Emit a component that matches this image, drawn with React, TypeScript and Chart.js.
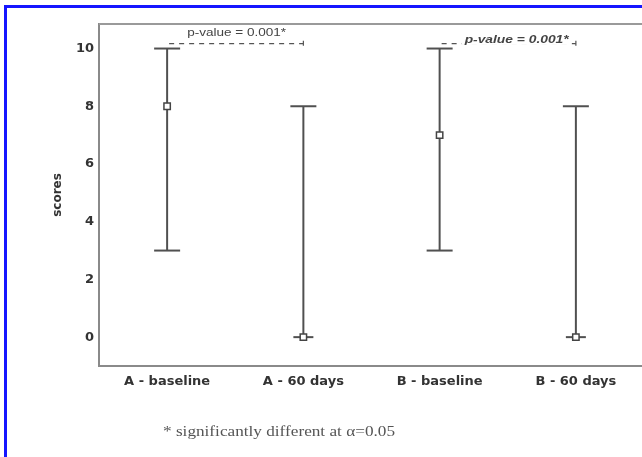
import React, { useEffect, useRef } from "react";
import { Chart, registerables } from "chart.js";

Chart.register(...registerables);

const categories = ["A - baseline", "A - 60 days", "B - baseline", "B - 60 days"];
const medians = [8, 0, 7, 0];
const minVals = [3, 0, 3, 0];
const maxVals = [10, 8, 10, 8];
const yTicks = [0, 2, 4, 6, 8, 10];
const comparisons = [
  { from: 0, to: 1, label: "p-value = 0.001*" },
  { from: 2, to: 3, label: "p-value = 0.001*" },
];
const footnote = "* significantly different at \u03b1=0.05";
const yTitle = "scores";

function fitText(ctx: any, text: string, x: number, y: number, w: number) {
  const m = ctx.measureText(text).width;
  ctx.save();
  ctx.translate(x, y);
  ctx.scale(w / m, 1);
  ctx.fillText(text, 0, 0);
  ctx.restore();
}

const decorPlugin = {
  id: "decor",
  beforeDatasetsDraw(chart: any) {
    const { ctx, scales } = chart;
    const xs = scales.x;
    const ys = scales.y;
    ctx.save();
    ctx.strokeStyle = "#505050";
    ctx.lineWidth = 2;
    for (let i = 0; i < categories.length; i++) {
      const x = xs.getPixelForValue(i);
      const yTop = ys.getPixelForValue(maxVals[i]);
      const yBot = ys.getPixelForValue(minVals[i]);
      ctx.beginPath();
      ctx.moveTo(x, yTop);
      ctx.lineTo(x, yBot);
      ctx.stroke();
      ctx.beginPath();
      ctx.moveTo(x - 13, yTop);
      ctx.lineTo(x + 13, yTop);
      ctx.stroke();
      const cw = minVals[i] === medians[i] ? 10 : 13;
      ctx.beginPath();
      ctx.moveTo(x - cw, yBot);
      ctx.lineTo(x + cw, yBot);
      ctx.stroke();
    }
    ctx.restore();
  },
  afterDraw(chart: any) {
    const { ctx, chartArea, scales } = chart;
    const xs = scales.x;
    const ys = scales.y;
    ctx.save();
    // top border
    ctx.strokeStyle = "#9a9a9a";
    ctx.lineWidth = 2;
    ctx.beginPath();
    ctx.moveTo(chartArea.left, chartArea.top);
    ctx.lineTo(chartArea.right + 10, chartArea.top);
    ctx.stroke();
    // comparisons
    comparisons.forEach((c, k) => {
      const x1 = xs.getPixelForValue(c.from);
      const x2 = xs.getPixelForValue(c.to);
      const yl = ys.getPixelForValue(10.17);
      ctx.strokeStyle = "#555";
      ctx.lineWidth = 1.2;
      ctx.setLineDash([5, 5]);
      ctx.beginPath();
      ctx.moveTo(x1 + 2, yl);
      ctx.lineTo(x2, yl);
      ctx.stroke();
      ctx.setLineDash([]);
      ctx.beginPath();
      ctx.moveTo(x2, yl - 3);
      ctx.lineTo(x2, yl + 2);
      ctx.stroke();
      ctx.textBaseline = "middle";
      ctx.textAlign = "left";
      if (k === 0) {
        const ty = ys.getPixelForValue(10.52);
        ctx.fillStyle = "#fff";
        ctx.fillRect(x1 + 18, ty - 5, 104, 10);
        ctx.fillStyle = "#444";
        ctx.font = "10px 'Liberation Sans', Arial, sans-serif";
        fitText(ctx, c.label, x1 + 20, ty, 99);
      } else {
        const ty = ys.getPixelForValue(10.3);
        ctx.fillStyle = "#fff";
        ctx.fillRect(x1 + 22, ty - 6, 110, 11);
        ctx.fillStyle = "#444";
        ctx.font = "italic bold 10px 'Liberation Sans', Arial, sans-serif";
        fitText(ctx, c.label, x1 + 25, ty, 104);
      }
    });
    // y title
    ctx.save();
    ctx.translate(58, 195);
    ctx.rotate(-Math.PI / 2);
    ctx.textAlign = "center";
    ctx.textBaseline = "middle";
    ctx.fillStyle = "#333";
    ctx.font = "bold 12px 'DejaVu Sans', sans-serif";
    ctx.fillText(yTitle, 0, 0);
    ctx.restore();
    // footnote
    ctx.fillStyle = "#555";
    ctx.font = "14px 'Liberation Serif', 'Times New Roman', serif";
    ctx.textAlign = "left";
    ctx.textBaseline = "middle";
    fitText(ctx, footnote, 163, 432, 232);
    ctx.restore();
  },
};

export default function App() {
  const ref = useRef<HTMLCanvasElement>(null);
  useEffect(() => {
    if (!ref.current) return;
    const chart = new Chart(ref.current, {
      type: "line",
      data: {
        labels: categories,
        datasets: [
          {
            data: medians,
            showLine: false,
            pointStyle: "rect",
            pointRadius: 4.5,
            pointBackgroundColor: "#fff",
            pointBorderColor: "#444",
            pointBorderWidth: 1.5,
          },
        ],
      },
      options: {
        responsive: false,
        animation: false,
        layout: { padding: { left: 0, top: 24, right: 5, bottom: 61 } },
        plugins: { legend: { display: false }, tooltip: { enabled: false } },
        scales: {
          x: {
            type: "category",
            offset: true,
            grid: { display: false, drawTicks: false },
            border: { display: true, color: "#8a8a8a", width: 2 },
            ticks: {
              padding: 8,
              color: "#333",
              font: { family: "'DejaVu Sans', sans-serif", size: 13, weight: "bold" },
            },
            afterFit: (s: any) => {
              s.height = 30;
            },
          },
          y: {
            min: -1,
            max: 10.85,
            grid: { display: false, drawTicks: false },
            border: { display: true, color: "#8a8a8a", width: 2 },
            afterBuildTicks: (s: any) => {
              s.ticks = yTicks.map((v) => ({ value: v }));
            },
            ticks: {
              padding: 5,
              color: "#333",
              font: { family: "'DejaVu Sans', sans-serif", size: 13, weight: "bold" },
            },
            afterFit: (s: any) => {
              s.width = 99;
            },
          },
        },
      },
      plugins: [decorPlugin],
    });
    return () => chart.destroy();
  }, []);
  return (
    <div
      style={{
        position: "fixed",
        left: 0,
        top: 0,
        width: 642,
        height: 457,
        overflow: "hidden",
        background: "#fff",
      }}
    >
      <div
        style={{
          position: "absolute",
          left: 4,
          top: 5,
          width: 700,
          height: 500,
          borderLeft: "3px solid #1515ff",
          borderTop: "3px solid #1515ff",
        }}
      />
      <canvas
        ref={ref}
        width={650}
        height={457}
        style={{ position: "absolute", left: 0, top: 0, width: 650, height: 457 }}
      />
    </div>
  );
}
